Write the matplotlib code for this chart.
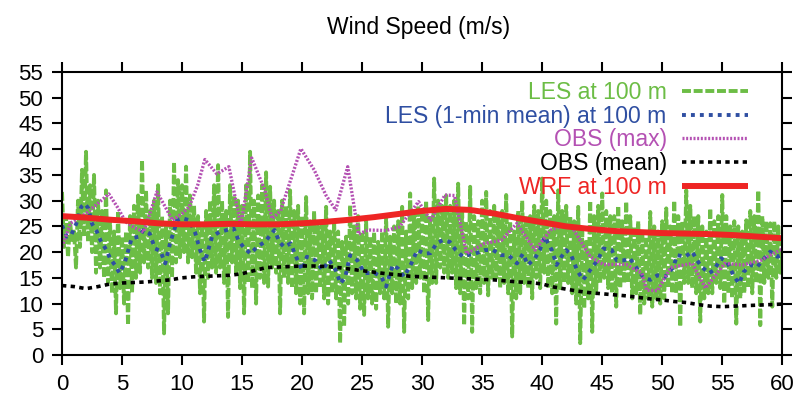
import numpy as np
import matplotlib
matplotlib.use("Agg")
import matplotlib.pyplot as plt

plt.rcParams['font.family'] = ['Liberation Sans', 'DejaVu Sans']

# LES at 100 m, 6 samples per minute
les_100m = [
    31.7, 21, 27, 19, 26, 22,     24, 17, 30, 21, 36, 23,     39.5, 22, 33, 20, 35, 16,
    30, 17, 28, 15, 32, 14,       26, 12, 24, 8.1, 28, 13,    23, 10, 24, 5.8, 27, 12,
    29, 15, 31, 16, 37.9, 18,     32, 17, 28, 15, 30, 14,     33, 12, 27, 4.2, 25, 8.1,
    30, 15, 37.5, 18, 34, 19,     33, 20, 36.6, 18, 31, 19,   29, 16, 27, 12, 25, 6.5,
    28, 15, 30, 17, 33, 16,       36.9, 17, 30, 14, 28, 7.4,  33, 18, 31, 16, 30, 13,
    29, 8.1, 33, 14, 39.5, 13,    30, 10, 31, 15, 33, 14,     35.5, 13.3, 32.7, 17, 30, 16,
    28, 8.1, 30, 15, 29, 14,      32, 13, 28, 12, 29, 10,     27, 8.1, 30.7, 12, 26, 11,
    28, 12, 25, 13, 26, 11,       28.8, 10, 24, 12, 26, 11,   24, 2.3, 22, 5.5, 23, 10,
    29.1, 12, 25, 11, 27, 9,      24, 7.8, 26, 11, 23, 10,    23.9, 9, 22, 12, 24, 11,
    26.9, 5.5, 23, 12, 25, 10,    26, 10, 28.8, 4.5, 24, 11,  31.4, 13, 28, 14, 29, 15,
    28, 12, 30, 6.8, 27, 14,      34.3, 14, 30, 17, 29, 16,   31, 15, 29, 16, 30, 13,
    33.3, 12, 28, 5.8, 26, 11,    32.7, 4.5, 27, 13, 26, 12,  30, 14, 31.7, 11.6, 28, 15,
    29, 15, 27, 13, 28, 14,       31.1, 12, 26, 3.6, 24, 11,  28, 12, 30, 14, 27, 13,
    27, 11, 29, 15, 28, 13,       34.3, 16, 30, 13, 28, 12,   27, 6.1, 32, 13, 28, 14,
    29, 14, 27, 12, 26, 10,       28.8, 2.3, 24, 9, 22, 11,   30, 4.5, 27, 12, 29, 14,
    31.4, 15, 28, 13, 27, 12,     27, 9.4, 29, 13, 26, 14,    29.8, 14, 27, 11, 25, 12,
    26, 7.8, 24, 10, 23, 11,      27.8, 9.4, 25, 11, 24, 10,  26, 11, 28.5, 13, 25, 12,
    30, 12, 27, 5.5, 26, 14,      32, 14, 29, 13, 27, 12,     27, 6.5, 25, 11, 24, 12,
    28.5, 12, 26, 14, 27, 13,     31.1, 10, 27, 12, 25, 11,   26, 6.1, 25, 11, 24, 12,
    26.2, 13, 28, 12, 27, 14,     32, 5.8, 27, 14, 26, 15,    25.6, 9.4, 26, 15, 25, 16,
    20,
]
les_t = np.linspace(0, 60, len(les_100m))

# LES 1-min running mean
mean_t = [0, 0.4, 0.8, 1.2, 1.6, 1.9, 2.2, 2.5, 2.9, 3.2, 3.7, 4.0, 4.4, 4.8, 5.25,
          5.8, 6.4, 6.8, 7.3, 7.75, 8.2, 8.6, 9.0, 9.6, 10.0, 10.6, 11.1, 11.5, 11.9,
          12.5, 13.1, 13.75, 14.3, 14.7, 15.1, 15.7, 16.25, 16.9, 17.7, 18.1, 18.5,
          19.05, 19.5, 20.0, 20.4, 21.1, 21.7, 22.25, 22.8, 23.2, 23.6, 24.0, 24.6,
          25.2, 26.0, 26.6, 27.0, 27.55, 28.0, 28.5, 29.1, 29.6, 30.2, 30.7, 31.2,
          31.7, 32.3, 32.8, 33.4, 33.9, 34.4, 35.2, 35.9, 36.6, 37.2, 37.9, 38.4,
          38.8, 39.4, 39.8, 40.2, 40.8, 41.2, 41.6, 42.0, 42.4, 42.9, 43.4, 44.0,
          44.6, 45.1, 45.8, 46.2, 46.8, 47.3, 47.9, 48.4, 49.0, 49.6, 50.25, 50.9,
          51.25, 51.9, 52.5, 52.9, 53.3, 53.9, 54.3, 54.9, 55.4, 56.0, 56.4, 56.8,
          57.4, 57.9, 58.5, 59.0, 59.6, 60]
les_mean = [25.2, 23, 23.5, 25.6, 28.8, 29.4, 28.5, 25.5, 24, 22.3, 20.4, 18.8, 17.5,
            15.9, 18.1, 22.7, 23, 24.3, 23.6, 20.7, 20.2, 17.8, 21.7, 26.2, 26.6,
            26.2, 23.7, 20.4, 18.1, 23, 23.9, 24.3, 24.6, 22.3, 21, 19.7, 21, 22,
            24.3, 22, 21, 21.7, 19.1, 16.5, 19.1, 18.4, 16.5, 18.4, 16.5, 13.9, 15.2,
            19.4, 18.4, 15.9, 16, 15.2, 13.3, 17.5, 16.8, 15.2, 17.8, 20.4, 19.7,
            19.8, 21.7, 22.3, 22, 20.4, 19.1, 19.5, 19.7, 20.4, 20.4, 19.4, 19.4,
            17.8, 19.7, 17.5, 18.8, 20.4, 23, 20.4, 17.5, 19.1, 20.4, 19.5, 16.5,
            14.6, 16.5, 18.4, 20.7, 20.4, 18.4, 18.4, 18.8, 16.8, 15.2, 14.6, 15.5,
            15.2, 17, 19.4, 19.1, 20.1, 18.4, 17.1, 15.9, 16.5, 18.8, 18.1, 15.2,
            13.9, 16.2, 17.5, 17.1, 18.8, 20.1, 19.1, 19.5]

# OBS (max)
obs_max_t = [0, 0.7, 2, 3, 3.9, 4.6, 5.3, 6, 6.8, 7.5, 7.9, 8.6, 9.2, 10, 10.6, 11.3,
             11.9, 12.9, 13.9, 14.9, 15.8, 16.9, 17.5, 18.2, 19.9, 21, 22, 22.8, 23.8,
             24.7, 25.5, 27, 28.1, 29.7, 30.7, 31.9, 32.7, 33.7, 35.2, 36.6, 37.9,
             39.4, 40.7, 41.9, 42.5, 44, 45.1, 47, 48.3, 48.7, 49.6, 50.7, 52.5, 53.6,
             55.2, 56.7, 58.2, 59.8, 60]
obs_max = [21, 25.6, 27.5, 29.5, 31.3, 28.8, 25.9, 24.8, 23.9, 28.8, 31.7, 28.8, 26.2,
           27.5, 28.8, 33, 38, 35.2, 36.6, 25.2, 38.3, 32, 26.5, 28, 40.1, 36, 31, 28.2,
           36.6, 23.5, 24.3, 24.2, 24.9, 29.8, 26.2, 31.1, 31, 19.7, 21.7, 22.3, 25.6,
           20.4, 24.3, 25.2, 24.8, 19.1, 17.6, 17.6, 15.9, 12.6, 12.5, 17, 17.8, 13,
           17.8, 17.5, 18.4, 20.4, 20.5]

# OBS (mean), one value per minute
obs_t = np.arange(0, 61)
obs_mean = [13.5, 13.3, 12.9, 13.3, 13.8, 14.0, 14.1, 14.2, 14.4, 14.6, 15.0, 15.2,
            15.3, 15.4, 15.5, 15.8, 16.4, 17.0, 17.1, 17.2, 17.3, 17.3, 17.2, 17.0,
            16.7, 16.4, 16.1, 15.8, 15.6, 15.3, 15.2, 15.1, 15.0, 14.9, 14.8, 14.7,
            14.6, 14.4, 14.2, 14.1, 13.8, 13.2, 12.8, 12.4, 12.1, 11.9, 11.7, 11.5,
            11.2, 10.9, 10.7, 10.4, 10.2, 9.8, 9.5, 9.4, 9.5, 9.6, 9.7, 9.8, 9.9]

# WRF at 100 m, every 2 minutes
wrf_t = np.arange(0, 61, 2)
wrf = [27.0, 26.7, 26.3, 26.0, 25.6, 25.4, 25.4, 25.5, 25.4, 25.4, 25.6, 25.9, 26.3,
       26.8, 27.4, 28.0, 28.4, 28.2, 27.5, 26.6, 25.8, 25.0, 24.5, 24.1, 23.9, 23.7,
       23.6, 23.5, 23.3, 23.0, 22.7]

c_les = '#6cbd45'
c_mean = '#2f4fa2'
c_max = '#b451b3'
c_obs = '#000000'
c_wrf = '#ee2524'

fig = plt.figure(figsize=(7.95, 3.98), dpi=100)
ax = fig.add_axes([0.078, 0.108, 0.906, 0.711])

ax.plot(les_t, les_100m, color=c_les, lw=2.8, dashes=(2.3, 0.7), label='LES at 100 m')
ax.plot(mean_t, les_mean, color=c_mean, lw=2.8, dashes=(1.0, 1.3),
        label='LES (1-min mean) at 100 m')
ax.plot(obs_max_t, obs_max, color=c_max, lw=2.4, dashes=(0.6, 0.5), label='OBS (max)')
ax.plot(obs_t, obs_mean, color=c_obs, lw=2.6, dashes=(1.2, 1.2), label='OBS (mean)')
ax.plot(wrf_t, wrf, color=c_wrf, lw=4.3, solid_capstyle='butt', label='WRF at 100 m')

ax.set_xlim(0, 60)
ax.set_ylim(0, 55)
ax.set_xticks(range(0, 61, 5))
ax.set_yticks(range(0, 56, 5))
ax.tick_params(direction='out', length=7.5, width=1.5, labelsize=16, pad=6,
               top=True, right=True, labeltop=False, labelright=False)
for s in ax.spines.values():
    s.set_linewidth(1.5)

leg = ax.legend(loc='upper right', bbox_to_anchor=(748 / 795, 1 - 81 / 398),
                bbox_transform=fig.transFigure, frameon=False, markerfirst=False,
                fontsize=16.5, handlelength=2.9, handletextpad=0.65, labelspacing=0.03,
                borderpad=0, borderaxespad=0, labelcolor='linecolor')

fig.text(0.527, 0.932, 'Wind Speed (m/s)', ha='center', va='center', fontsize=16.5)

fig.savefig('out.png', dpi=100)
